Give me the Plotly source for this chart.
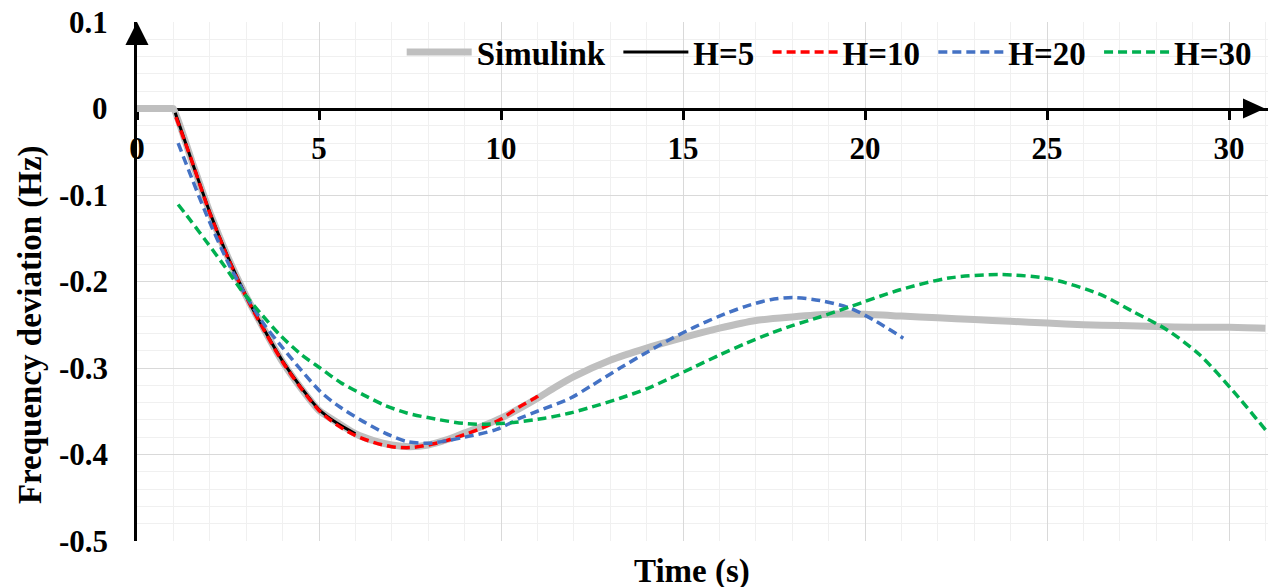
import plotly.graph_objects as go

# ---------------- data ----------------
t_sim = [0, 0.5, 0.95, 1.0, 1.5, 2.0, 2.5, 3.0, 3.5, 4.0, 4.5, 5.0, 5.5, 6.0, 6.5, 7.0, 7.5, 8.0,
         8.5, 9.0, 9.5, 10.0, 10.5, 11.0, 11.5, 12, 13, 14, 15, 16, 17, 18, 19, 20,
         21, 22, 23, 24, 25, 26, 27, 28, 29, 30, 31]
f_sim = [0, 0, 0, 0, -0.060, -0.120, -0.172, -0.217, -0.256, -0.293, -0.323, -0.349, -0.363,
         -0.376, -0.384, -0.389, -0.391, -0.389, -0.383, -0.375, -0.367, -0.358, -0.347,
         -0.335, -0.322, -0.310, -0.291, -0.277, -0.265, -0.254, -0.245, -0.241, -0.238,
         -0.238, -0.240, -0.242, -0.244, -0.246, -0.248, -0.250, -0.251, -0.252, -0.253,
         -0.253, -0.254]

t_h5 = [1.05, 1.5, 2.0, 2.5, 3.0, 3.5, 4.0, 4.5, 5.0, 5.5, 6.0]
f_h5 = [-0.005, -0.060, -0.120, -0.172, -0.217, -0.256, -0.292, -0.322, -0.348, -0.364, -0.376]

t_h10 = [1.07, 1.5, 2.0, 2.5, 3.0, 3.5, 4.0, 4.5, 5.0, 5.5, 6.0, 6.5, 7.0, 7.5, 8.0,
         8.5, 9.0, 9.5, 10.0, 10.5, 11.0, 11.1]
f_h10 = [-0.010, -0.060, -0.121, -0.173, -0.218, -0.257, -0.293, -0.323, -0.349, -0.366,
         -0.378, -0.386, -0.391, -0.392, -0.389, -0.384, -0.377, -0.369, -0.359, -0.345,
         -0.333, -0.330]

t_h20 = [1.13, 1.5, 1.91, 2.5, 2.83, 3.0, 3.5, 3.93, 4.5, 5.03, 5.5, 6.22, 6.8, 7.41, 8.0,
         8.51, 9.0, 9.88, 10.52, 11.0, 11.9, 12.5, 13.27, 14.0, 14.64, 15.3, 16.0, 16.7,
         17.4, 18.03, 18.76, 19.6, 20.3, 21.05]
f_h20 = [-0.040, -0.080, -0.123, -0.178, -0.204, -0.217, -0.250, -0.273, -0.302, -0.327,
         -0.343, -0.362, -0.375, -0.385, -0.387, -0.384, -0.380, -0.371, -0.358, -0.350,
         -0.335, -0.320, -0.300, -0.282, -0.267, -0.253, -0.240, -0.229, -0.221, -0.2185,
         -0.222, -0.231, -0.246, -0.2655]

t_h30 = [1.13, 1.5, 1.91, 2.4, 2.83, 3.4, 3.93, 4.5, 5.03, 5.6, 6.22, 6.8, 7.41, 8.2, 8.96,
         9.6, 10.34, 11.2, 11.9, 12.5, 13.27, 14.0, 14.64, 15.3, 16.0, 16.7, 17.4, 18.0,
         18.76, 19.6, 20.96, 22.3, 23.7, 25.08, 26.46, 27.37, 28.3, 29.2, 30.12, 31.03]
f_h30 = [-0.111, -0.131, -0.154, -0.182, -0.208, -0.237, -0.262, -0.284, -0.300, -0.317,
         -0.331, -0.343, -0.352, -0.359, -0.364, -0.365, -0.363, -0.358, -0.352, -0.345,
         -0.335, -0.324, -0.312, -0.299, -0.285, -0.272, -0.260, -0.251, -0.241, -0.229,
         -0.2096, -0.196, -0.192, -0.197, -0.215, -0.235, -0.256, -0.285, -0.327, -0.373]

x_ticks = [0, 5, 10, 15, 20, 25, 30]
x_labels = ["0", "5", "10", "15", "20", "25", "30"]
y_ticks = [0.1, 0, -0.1, -0.2, -0.3, -0.4, -0.5]
y_labels = ["0.1", "0", "-0.1", "-0.2", "-0.3", "-0.4", "-0.5"]

FONT = "Liberation Serif"
TICK_SIZE = 31
TEXT_SIZE = 33
PAD = "\u00a0"  # small trailing gap between legend entries

fig = go.Figure()
fig.add_trace(go.Scatter(x=t_sim, y=f_sim, name="Simulink" + PAD, mode="lines",
                         line=dict(color="#BFBFBF", width=7, shape="spline", smoothing=0.6)))
fig.add_trace(go.Scatter(x=t_h5, y=f_h5, name="H=5" + PAD, mode="lines",
                         line=dict(color="black", width=3, shape="spline", smoothing=0.8)))
fig.add_trace(go.Scatter(x=t_h10, y=f_h10, name="H=10" + PAD, mode="lines",
                         line=dict(color="#FF0000", width=3.5, dash="9px,5px",
                                   shape="spline", smoothing=0.8)))
fig.add_trace(go.Scatter(x=t_h20, y=f_h20, name="H=20" + PAD, mode="lines",
                         line=dict(color="#4472C4", width=3.5, dash="9px,5px",
                                   shape="spline", smoothing=0.8)))
fig.add_trace(go.Scatter(x=t_h30, y=f_h30, name="H=30", mode="lines",
                         line=dict(color="#00B050", width=3.5, dash="9px,5px",
                                   shape="spline", smoothing=0.8)))

# y tick labels as annotations (so the top one is not dropped at the figure edge)
y_label_annotations = [
    dict(text=lab, x=0, xref="paper", y=val, yref="y", xanchor="right", yanchor="middle",
         xshift=-27, showarrow=False,
         font=dict(family=FONT, size=TICK_SIZE, color="black", weight="bold"))
    for val, lab in zip(y_ticks, y_labels)
]

# the page body has an 8px default offset; margins compensate for it
fig.update_layout(
    width=1281, height=587,
    margin=dict(l=129, r=21, t=14, b=54, autoexpand=False),
    paper_bgcolor="white", plot_bgcolor="white",
    font=dict(family=FONT, color="black"),
    showlegend=True,
    legend=dict(orientation="h", x=0.99, xanchor="right", y=0.942, yanchor="middle",
                bgcolor="rgba(0,0,0,0)", itemwidth=65,
                font=dict(family=FONT, size=TEXT_SIZE, color="black", weight="bold")),
    xaxis=dict(range=[0, 31.07], tickvals=x_ticks, ticktext=x_labels,
               tickfont=dict(family=FONT, size=TICK_SIZE, color="black", weight="bold"),
               showgrid=True, gridcolor="#D9D9D9", gridwidth=1,
               minor=dict(dtick=1, showgrid=True, gridcolor="#F0F0F0", gridwidth=1),
               showline=True, linecolor="black", linewidth=3,
               anchor="free", position=0.8333, side="bottom",
               ticks="outside", ticklen=9, tickwidth=3, tickcolor="black",
               ticklabelstandoff=2, automargin=False,
               zeroline=False, layer="below traces"),
    yaxis=dict(range=[-0.5, 0.1], tickvals=y_ticks, showticklabels=False,
               showgrid=True, gridcolor="#D9D9D9", gridwidth=1,
               minor=dict(dtick=0.02, showgrid=True, gridcolor="#F0F0F0", gridwidth=1),
               showline=True, linecolor="black", linewidth=3,
               ticks="", automargin=False,
               zeroline=False, layer="below traces"),
    shapes=[
        dict(type="path", xref="paper", yref="paper",
             path="M 0 1.0 L -0.0102 0.9557 L 0.0102 0.9557 Z",
             fillcolor="black", line=dict(width=0)),
        dict(type="path", xref="paper", yref="paper",
             path="M 0.9973 0.8333 L 0.9779 0.8526 L 0.9779 0.8140 Z",
             fillcolor="black", line=dict(width=0)),
    ],
    annotations=y_label_annotations + [
        dict(text="Time (s)", xref="paper", yref="paper", x=0.4907, y=-0.0597,
             showarrow=False, xanchor="center", yanchor="middle",
             font=dict(family=FONT, size=TEXT_SIZE, color="black", weight="bold")),
        dict(text="Frequency deviation (Hz)", xref="paper", yref="paper",
             x=-0.0946, y=0.416, textangle=-90, showarrow=False,
             xanchor="center", yanchor="middle",
             font=dict(family=FONT, size=TEXT_SIZE, color="black", weight="bold")),
    ],
)

fig.write_html("out.html")
